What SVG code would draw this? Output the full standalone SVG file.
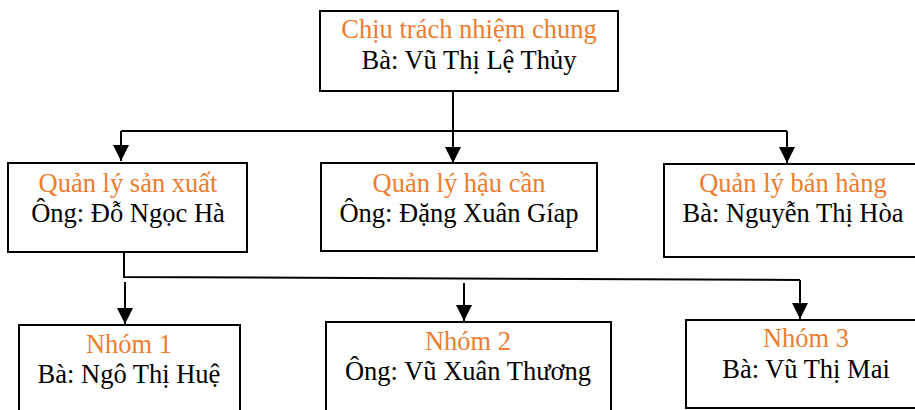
<svg xmlns="http://www.w3.org/2000/svg" width="915" height="410" viewBox="0 0 915 410">
<style>
.box{fill:#fff;stroke:#000;stroke-width:2}
.t{font-family:"Liberation Serif","Times New Roman",serif;font-size:26.5px;text-anchor:middle}
.o{fill:#ED7D31}
.k{fill:#000}
.c{fill:none;stroke:#000;stroke-width:2}
</style>
<defs>
<marker id="ah" markerWidth="8" markerHeight="8" refX="8" refY="4" orient="auto" markerUnits="strokeWidth">
<path d="M0,0 L8,4 L0,8 Z" fill="#000"/>
</marker>
</defs>
<rect width="915" height="410" fill="#fff"/>
<g id="connectors">
<path class="c" d="M453,91 V163" marker-end="url(#ah)"/>
<path class="c" d="M121,131 H787"/>
<path class="c" d="M121,131 V161" marker-end="url(#ah)"/>
<path class="c" d="M787,131 V163" marker-end="url(#ah)"/>
<path class="c" d="M124,252 V277 L800,280"/>
<path class="c" d="M125,282 V324" marker-end="url(#ah)"/>
<path class="c" d="M464,283 V321" marker-end="url(#ah)"/>
<path class="c" d="M800,280 V319" marker-end="url(#ah)"/>
</g>
<g id="top">
<rect class="box" x="320" y="11" width="298" height="80"/>
<text class="t o" x="469" y="38">Chịu trách nhiệm chung</text>
<text class="t k" x="469" y="69">Bà: Vũ Thị Lệ Thủy</text>
</g>
<g id="sanxuat">
<rect class="box" x="8" y="163" width="239" height="89"/>
<text class="t o" x="128" y="192">Quản lý sản xuất</text>
<text class="t k" x="128" y="222">Ông: Đỗ Ngọc Hà</text>
</g>
<g id="haucan">
<rect class="box" x="321" y="163" width="276" height="88"/>
<text class="t o" x="459" y="192">Quản lý hậu cần</text>
<text class="t k" x="459" y="222">Ông: Đặng Xuân Gíap</text>
</g>
<g id="banhang">
<rect class="box" x="664" y="164" width="262" height="93"/>
<text class="t o" x="793" y="192">Quản lý bán hàng</text>
<text class="t k" x="793" y="222">Bà: Nguyễn Thị Hòa</text>
</g>
<g id="nhom1">
<rect class="box" x="19" y="325" width="221" height="100"/>
<text class="t o" x="129" y="353">Nhóm 1</text>
<text class="t k" x="129" y="383">Bà: Ngô Thị Huệ</text>
</g>
<g id="nhom2">
<rect class="box" x="326" y="322" width="285" height="100"/>
<text class="t o" x="468" y="350">Nhóm 2</text>
<text class="t k" x="468" y="380">Ông: Vũ Xuân Thương</text>
</g>
<g id="nhom3">
<rect class="box" x="686" y="320" width="240" height="88"/>
<text class="t o" x="806" y="347">Nhóm 3</text>
<text class="t k" x="806" y="378">Bà: Vũ Thị Mai</text>
</g>
</svg>
